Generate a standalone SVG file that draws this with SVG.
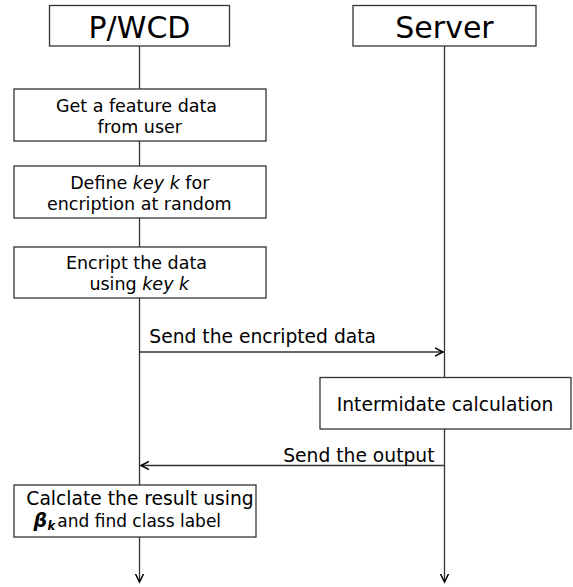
<svg xmlns="http://www.w3.org/2000/svg" width="573" height="587" viewBox="0 0 573 587">
<style>
.box{fill:#fff;stroke:#333;stroke-width:1.3}
.ln{stroke:#333;stroke-width:1.3;fill:none}
text{font-family:"DejaVu Sans","Noto Sans",sans-serif;fill:#000}
.t{font-size:30px;text-anchor:middle}
.s{font-size:17.5px;text-anchor:middle}
.m{font-size:18.7px}
.i{font-style:italic}
</style>
<defs>
<marker id="ah" markerUnits="userSpaceOnUse" markerWidth="12" markerHeight="12" refX="8" refY="4.5" orient="auto" viewBox="0 0 12 9">
<path d="M0,0.5 L8,4.5 L0,8.5" fill="none" stroke="#000" stroke-width="1.5"/>
</marker>
</defs>
<g id="connectors">
<line class="ln" x1="139.5" y1="46" x2="139.5" y2="89"/>
<line class="ln" x1="139.5" y1="141" x2="139.5" y2="166"/>
<line class="ln" x1="139.5" y1="218" x2="139.5" y2="247"/>
<line class="ln" x1="139.5" y1="298" x2="139.5" y2="485"/>
<line class="ln" x1="139.5" y1="537" x2="139.5" y2="582" marker-end="url(#ah)"/>
<line class="ln" x1="444.5" y1="46" x2="444.5" y2="377"/>
<line class="ln" x1="444.5" y1="429" x2="444.5" y2="582" marker-end="url(#ah)"/>
<line class="ln" x1="140" y1="352" x2="443" y2="352" marker-end="url(#ah)"/>
<text class="m" x="149.3" y="342.5">Send the encripted data</text>
<line class="ln" x1="444" y1="465.5" x2="141" y2="465.5" marker-end="url(#ah)"/>
<text class="m" x="434.5" y="461.5" text-anchor="end">Send the output</text>
</g>
<g id="pwcd">
<rect class="box" x="49.5" y="5.5" width="180" height="40.5"/>
<text class="t" x="139.5" y="38.3">P/WCD</text>
</g>
<g id="server">
<rect class="box" x="353" y="5.5" width="183" height="40.5"/>
<text class="t" x="444.5" y="38.3">Server</text>
</g>
<g id="get-data">
<rect class="box" x="14" y="89" width="252" height="52"/>
<text class="s" x="136.5" y="111.7">Get a feature data</text>
<text class="s" x="139.8" y="132.7">from user</text>
</g>
<g id="define-key">
<rect class="box" x="14" y="166" width="252" height="52"/>
<text class="s" x="139.8" y="189">Define <tspan class="i">key k</tspan> for</text>
<text class="s" x="139.3" y="209.5">encription at random</text>
</g>
<g id="encrypt">
<rect class="box" x="14" y="247" width="252" height="51"/>
<text class="s" x="136.5" y="269.3">Encript the data</text>
<text class="s" x="139.3" y="290">using <tspan class="i">key k</tspan></text>
</g>
<g id="intermediate">
<rect class="box" x="320" y="377.5" width="251" height="51.5"/>
<text class="m" x="445" y="411" text-anchor="middle">Intermidate calculation</text>
</g>
<g id="calculate">
<rect class="box" x="14" y="485" width="242" height="52"/>
<text class="m" x="140" y="505" text-anchor="middle">Calclate the result using</text>
<text x="33.5" y="527" font-size="19" font-weight="bold" font-style="italic">β</text>
<text x="47.5" y="530" font-size="11.5" font-weight="bold" font-style="italic">k</text>
<text x="57.3" y="527" font-size="17">and find class label</text>
</g>
</svg>
